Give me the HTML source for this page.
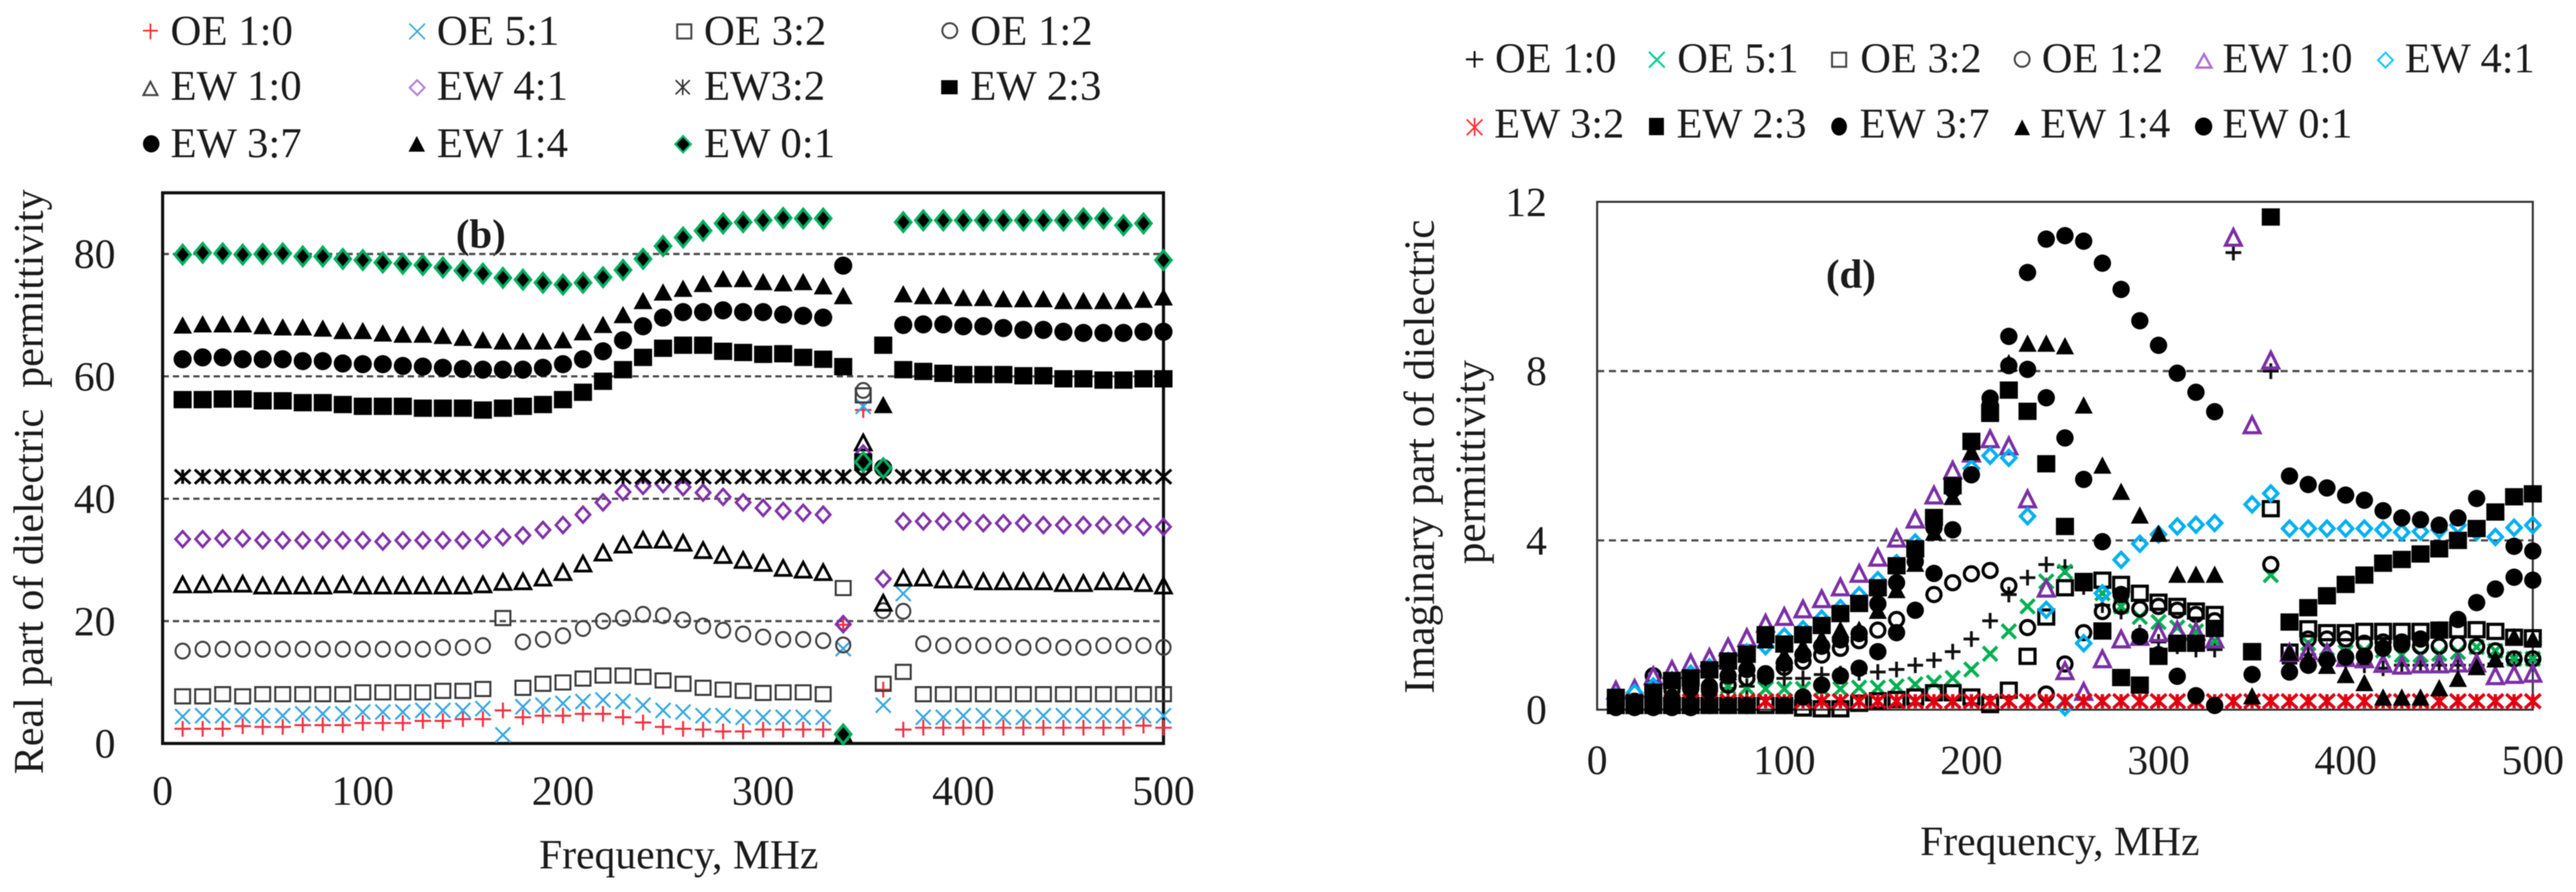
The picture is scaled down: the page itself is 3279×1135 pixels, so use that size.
<!DOCTYPE html>
<html lang="en">
<head>
<meta charset="utf-8">
<title>Real and imaginary parts of dielectric permittivity</title>
<style>
html,body{margin:0;padding:0;background:#fff;}
svg{display:block;filter:blur(0.6px);}
text{font-family:"Liberation Serif",serif;fill:#1a1a1a;}
</style>
</head>
<body>
<svg id="fig" xmlns="http://www.w3.org/2000/svg" width="3279" height="1135" viewBox="0 0 3279 1135">
  <rect width="3279" height="1135" fill="#fff"/>

  <g font-size="54.5">
    <path d="M182 39h19M191.500 30v20" stroke="#f22" stroke-width="2" fill="none"/>
    <text x="217" y="57">OE 1:0</text>
    <path d="M521 30l20 20M541 30l-20 20" stroke="#3aa7e0" stroke-width="2" fill="none"/>
    <text x="556" y="57">OE 5:1</text>
    <rect x="862" y="31" width="18" height="18" stroke="#444" stroke-width="2.500" fill="none"/>
    <text x="896" y="57">OE 3:2</text>
    <circle cx="1209" cy="39" r="9.500" stroke="#444" stroke-width="2.500" fill="none"/>
    <text x="1235" y="57">OE 1:2</text>

    <path d="M191.500 104l9 17h-18z" stroke="#444" stroke-width="2.500" fill="none"/>
    <text x="217" y="127">EW 1:0</text>
    <path d="M531 102l9.500 9.500l-9.500 9.500l-9.500-9.500z" stroke="#b080d8" stroke-width="2.500" fill="none"/>
    <text x="556" y="127">EW 4:1</text>
    <path d="M860 102l18 18M878 102l-18 18M869 101v20" stroke="#333" stroke-width="2" fill="none"/>
    <text x="896" y="127">EW3:2</text>
    <rect x="1198" y="102" width="21" height="18" fill="#000"/>
    <text x="1235" y="127">EW 2:3</text>

    <ellipse cx="192.500" cy="183" rx="10.500" ry="11" fill="#000"/>
    <text x="217" y="200">EW 3:7</text>
    <path d="M530.500 173l10.500 20h-21z" fill="#000"/>
    <text x="556" y="200">EW 1:4</text>
    <path d="M869.500 173l10 10.500l-10 10.500l-10-10.500z" fill="#000" stroke="#00c070" stroke-width="2.500"/>
    <text x="896" y="200">EW 0:1</text>
  </g>

  <g font-size="54">
    <path d="M1866 75.500h22M1877 65v21" stroke="#111" stroke-width="2.500" fill="none"/>
    <text x="1903" y="92">OE 1:0</text>
    <path d="M2099 66l20 20M2119 66l-20 20" stroke="#00d090" stroke-width="2.500" fill="none"/>
    <text x="2135" y="92">OE 5:1</text>
    <rect x="2332" y="67" width="18" height="18" stroke="#444" stroke-width="2.500" fill="none"/>
    <text x="2368" y="92">OE 3:2</text>
    <circle cx="2574" cy="75.500" r="9.500" stroke="#444" stroke-width="2.500" fill="none"/>
    <text x="2599" y="92">OE 1:2</text>
    <path d="M2805.500 69l9.500 17h-19z" stroke="#b070d0" stroke-width="3" fill="none"/>
    <text x="2829" y="92">EW 1:0</text>
    <path d="M3036.500 67l9.500 9.500l-9.500 9.500l-9.500-9.500z" stroke="#18c8f8" stroke-width="2.500" fill="none"/>
    <text x="3061" y="92">EW 4:1</text>

    <path d="M1867 152l20 20M1887 152l-20 20M1877 150v23" stroke="#f33" stroke-width="2.200" fill="none"/>
    <text x="1902" y="175">EW 3:2</text>
    <rect x="2099" y="150" width="19" height="22" fill="#000"/>
    <text x="2134" y="175">EW 2:3</text>
    <ellipse cx="2341" cy="161" rx="10" ry="11.500" fill="#000"/>
    <text x="2367" y="175">EW 3:7</text>
    <path d="M2574 152l10 20h-20z" fill="#000"/>
    <text x="2597" y="175">EW 1:4</text>
    <ellipse cx="2805" cy="161" rx="11" ry="11.500" fill="#000"/>
    <text x="2829" y="175">EW 0:1</text>
  </g>

  <g id="left-chart">
    <text transform="translate(54.500 613) rotate(-90)" text-anchor="middle" font-size="53.500" xml:space="preserve">Real part of dielectric  permittivity</text>
    <text x="864" y="1105" text-anchor="middle" font-size="53">Frequency, MHz</text>
    <text x="612" y="315" text-anchor="middle" font-size="52" font-weight="bold">(b)</text>
  </g>

  <g id="right-chart">
    <text transform="translate(1825 581) rotate(-90)" text-anchor="middle" font-size="55">Imaginary part of dielectric</text>
    <text transform="translate(1890 588) rotate(-90)" text-anchor="middle" font-size="55">permittivity</text>
    <text x="2622" y="1088" text-anchor="middle" font-size="53">Frequency, MHz</text>
    <text x="2356" y="366" text-anchor="middle" font-size="52" font-weight="bold">(d)</text>
  </g>
</svg>

<script>
const frequencies = [10,20,30,40,50,60,70,80,90,100,110,120,130,140,150,160,170,180,190,200,210,220,230,240,250,260,270,280,290,300,310,320,330,340,350,360,370,380,390,400,410,420,430,440,450,460,470,480,490,500];
const xTicks = [0,100,200,300,400,500];
const leftYTicks = [0,20,40,60,80];
const rightYTicks = [0,4,8,12];

/* Panel (b): real part of dielectric permittivity */
const realOE10 = [2.4,2.4,2.4,2.83,2.7,2.7,3,3,3,3.34,3.34,3.34,3.68,3.68,3.98,3.98,5.4,4.28,4.54,4.54,4.84,4.84,4.28,3.43,2.7,2.4,2.27,1.97,1.97,2.27,2.27,2.27,2.27,19.4,54.5,8.8,2.27,2.57,2.57,2.57,2.57,2.57,2.57,2.57,2.57,2.57,2.57,2.57,2.92,2.57];
const realOE51 = [4.4,4.54,4.54,4.54,4.54,4.54,4.84,4.84,4.84,5.14,5.14,5.14,5.4,5.4,5.4,5.7,1.4,6,6.25,6.55,6.85,7.1,6.85,6.25,5.4,5.14,4.54,4.54,4.28,4.28,4.28,4.28,4.28,15.5,55.1,6.25,24.5,4.28,4.28,4.54,4.54,4.28,4.28,4.54,4.54,4.54,4.54,4.54,4.54,4.54];
const realOE32 = [7.7,7.7,8.05,7.7,8.05,8.05,8.05,8.05,8.05,8.35,8.35,8.35,8.35,8.6,8.6,8.9,20.5,9.1,9.76,9.97,10.6,11.1,11.1,10.9,10.3,9.76,9.1,8.8,8.6,8.26,8.35,8.35,8.05,25.4,56.9,9.76,11.7,8.05,8.05,8.05,8.05,8.05,8.05,8.05,8.05,8.05,8.05,8.05,8.05,8.05];
const realOE12 = [15.1,15.4,15.4,15.4,15.4,15.4,15.4,15.4,15.4,15.4,15.4,15.4,15.4,15.7,15.7,16,null,16.6,17,17.6,18.8,20,20.5,21.1,20.9,20.2,19.2,18.5,17.9,17.4,17,17,16.8,16.1,57.7,21.7,21.6,16.3,16,16,16,16,15.7,16,15.7,15.7,16,16,16,15.7];
const realEW10 = [26,26,26.1,26.1,25.8,25.8,25.8,25.8,26,25.8,25.8,25.8,25.8,25.8,25.8,26,26.4,26.5,27.1,28,29.4,31.2,32.5,33.3,33.3,32.8,31.6,30.8,30,29.5,28.7,28.4,28,1.5,49.2,23,27.1,27.1,26.8,26.8,26.5,26.5,26.5,26.5,26.2,26.2,26.5,26.5,26.2,25.8];
const realEW41 = [33.4,33.4,33.5,33.5,33.2,33.2,33.2,33.2,33.2,33.2,33,33.2,33.2,33.2,33.2,33.4,33.7,34,34.9,35.7,37.4,39.4,41.1,42.1,42.4,41.9,41,40.3,39.4,38.5,38,37.7,37.4,19.5,47.4,26.9,36.3,36.3,36.3,36.3,36,36,36,35.7,35.7,35.7,35.7,35.7,35.4,35.4];
const realEW32 = [43.6,43.6,43.6,43.6,43.6,43.6,43.6,43.6,43.6,43.6,43.6,43.6,43.6,43.6,43.6,43.6,43.6,43.6,43.6,43.6,43.6,43.6,43.6,43.6,43.6,43.6,43.6,43.6,43.6,43.6,43.6,43.6,43.6,43.6,43.6,43.6,43.6,43.6,43.6,43.6,43.6,43.6,43.6,43.6,43.6,43.6,43.6,43.6,43.6,43.6];
const realEW23 = [56.2,56.2,56.3,56.3,56,56,55.7,55.7,55.4,55.1,55.1,55.1,54.8,54.8,54.8,54.5,54.8,55.1,55.4,56.2,57.4,59.2,61.1,63.1,64.6,65.1,65.1,64.1,63.9,63.6,63.7,63.1,62.8,61.6,46,65.1,61.1,60.8,60.5,60.3,60.3,60.3,60.1,60.1,59.6,59.6,59.4,59.4,59.6,59.6];
const realEW37 = [62.8,63.1,63.1,62.8,62.8,62.8,62.5,62.5,62.1,62,62,61.7,61.6,61.4,61.2,61.1,61.1,61.1,61.4,62,62.8,64.1,65.9,68.2,69.6,70.5,70.5,70.8,70.5,70.5,70.1,69.9,69.6,78.1,46,45,68.4,68.5,68.5,68.2,68.2,67.9,67.6,67.6,67.3,67.1,67.1,67.1,67.3,67.3];
const realEW14 = [68.4,68.6,68.6,68.6,68.3,68.1,68.1,67.9,67.5,67.5,67.1,66.9,66.9,66.7,66.4,66,65.8,65.8,65.8,66,67.3,68.5,70.1,72.4,73.8,74.4,75.2,76,76,75.5,75.3,75.5,74.8,73.2,46,55.4,73.5,73.2,73.2,72.9,72.9,72.7,72.7,72.7,72.4,72.4,72.4,72.4,72.6,73];
const realEW01 = [79.9,80.2,80.1,79.9,80,80.1,79.6,79.6,79.2,79,78.6,78.4,78.2,77.8,77.3,76.8,76.1,75.8,75.3,75,75.3,76.2,77.4,79.2,81.3,82.7,83.8,85,85.2,85.5,85.9,85.8,85.8,1.5,46,45,85.2,85.5,85.5,85.5,85.5,85.5,85.5,85.5,85.5,85.8,85.8,84.7,85,79];

/* Panel (d): imaginary part of dielectric permittivity */
const imagOE10 = [0.1,0.15,0.2,0.3,0.35,0.4,0.5,0.55,0.65,0.74,0.74,0.83,0.85,0.87,0.89,0.95,1.05,1.17,1.37,1.67,2.1,2.72,3.12,3.43,3.37,2.9,2.47,2.32,1.82,1.6,1.5,1.42,1.42,10.8,null,8,1.1,1.3,1.2,1.1,1.05,0.98,1.05,1.05,1.05,1.05,1.05,1.08,1.17,1.17];
const imagOE51 = [0.1,0.15,0.2,0.3,0.35,0.43,0.55,0.52,0.49,0.49,0.49,0.49,0.49,0.52,0.52,0.55,0.6,0.64,0.75,0.95,1.32,1.85,2.44,3.03,3.26,3,2.75,2.44,2.19,2.07,1.94,1.85,1.63,null,null,3.18,null,1.57,1.45,1.36,1.4,1.4,1.29,1.29,1.32,1.36,1.48,1.39,1.2,1.2];
const imagOE32 = [0.1,0.1,0.1,0.1,0.1,0.1,0.1,0.1,0.1,0.1,0.04,0.02,0.02,0.15,0.21,0.24,0.3,0.4,0.4,0.3,0.12,0.46,1.26,2.19,2.88,3,3.06,2.96,2.75,2.54,2.44,2.33,2.25,null,1.37,4.75,1.36,1.91,1.82,1.82,1.85,1.85,1.85,1.85,1.88,1.89,1.89,1.85,1.71,1.7];
const imagOE12 = [0.1,0.2,0.8,0.45,0.5,0.55,0.58,0.74,0.85,1,1.14,1.29,1.45,1.63,1.88,2.13,null,2.72,3,3.21,3.29,2.93,1.94,0.37,1.08,1.82,2.32,2.44,2.38,2.44,2.35,2.25,2.1,null,null,3.43,null,1.67,1.67,1.67,1.57,1.6,1.6,1.5,1.5,1.55,1.49,1.39,1.2,1.2];
const imagEW10 = [0.46,0.5,0.8,0.95,1.1,1.23,1.48,1.7,2.04,2.2,2.38,2.62,2.9,3.22,3.6,4.05,4.5,5.07,5.66,6.06,6.4,6.23,4.98,2.87,0.92,0.43,1.2,1.67,1.73,1.82,1.88,1.85,1.67,11.16,6.73,8.26,1.35,1.39,1.35,1.23,1.2,1.09,1.05,1.08,1.08,1.1,1.1,0.8,0.83,0.86];
const imagEW41 = [0.3,0.4,0.55,0.7,0.85,1,1.15,1.35,1.5,1.73,1.9,2.15,2.4,2.7,3.06,3.46,3.95,4.5,5.2,5.7,6,5.95,4.57,2.36,0.06,1.57,2.75,3.54,3.92,4.14,4.33,4.37,4.41,null,4.85,5.11,4.28,4.28,4.28,4.28,4.28,4.25,4.19,4.21,4.25,4.36,4.2,4.08,4.3,4.36];
const imagEW32 = [0.2,0.2,0.2,0.2,0.2,0.2,0.2,0.2,0.2,0.2,0.2,0.2,0.2,0.2,0.2,0.2,0.2,0.2,0.2,0.2,0.2,0.2,0.2,0.2,0.2,0.2,0.2,0.2,0.2,0.2,0.2,0.2,0.2,0.2,0.2,0.2,0.2,0.2,0.2,0.2,0.2,0.2,0.2,0.2,0.2,0.2,0.2,0.2,0.2,0.2];
const imagEW23 = [0.29,0.16,0.41,0.69,0.75,0.94,1.15,1.31,1.77,1.55,1.77,1.99,2.27,2.51,2.88,3.4,3.8,4.54,5.29,6.34,7.02,7.55,7.05,5.81,4.33,3.03,1.86,0.76,0.58,1.26,1.57,1.57,1.92,null,1.37,11.64,2.07,2.41,2.69,2.96,3.18,3.46,3.55,3.68,3.8,4,4.28,4.67,5.03,5.1];
const imagEW37 = [0.05,0.05,0.05,0.05,0.05,0.1,0.1,0.1,0.79,0.1,0.3,0.58,0.8,0.98,1.37,1.82,2.35,3.22,4.25,5.55,7.36,8.13,8.04,7.37,6.42,5.44,3.97,2.72,1.73,1.3,0.79,0.33,0.1,null,0.83,null,0.89,1.05,1.17,1.24,1.26,1.45,1.54,1.67,1.88,2.13,2.53,2.85,3.13,3.06];
const imagEW14 = [0.1,0.1,0.25,0.45,0.3,0.7,0.9,1,1.65,1.3,1.5,1.7,1.9,1.9,2.35,2.84,3.46,4.2,5.04,6.1,7,8.2,8.66,8.66,8.6,7.2,5.78,5.16,4.6,4.17,3.2,3.2,3.2,null,0.33,null,1.36,1.23,1.05,0.83,0.64,0.3,0.3,0.3,0.52,0.74,1.02,1.2,1.73,1.67];
const imagEW01 = [0.1,0.1,0.15,0.25,0.5,0.45,0.8,0.95,0.79,1.1,1.3,1.5,1.65,1.8,2.5,3,3.5,4.3,5.2,6.3,7.2,8.82,10.33,11.12,11.2,11.07,10.55,9.93,9.19,8.61,7.95,7.5,7.04,null,null,null,5.52,5.32,5.24,5.07,4.95,4.7,4.53,4.49,4.36,4.53,4.99,4.67,3.86,3.75];

const NS = 'http://www.w3.org/2000/svg';

function leftX(f){ return 207 + f * 2.548; }
function leftY(v){ return 946 - v * 7.785; }
function rightX(f){ return 2033 + f * 2.382; }
function rightY(v){ return 903 - v * 53.85; }

function shapePath(shape, w, h){
  if (shape === 'plus') return 'M' + (-w) + ' 0H' + w + 'M0 ' + (-h) + 'V' + h;
  if (shape === 'cross') return 'M' + (-w) + ' ' + (-h) + 'L' + w + ' ' + h + 'M' + w + ' ' + (-h) + 'L' + (-w) + ' ' + h;
  if (shape === 'star') return 'M' + (-w) + ' ' + (-h) + 'L' + w + ' ' + h + 'M' + w + ' ' + (-h) + 'L' + (-w) + ' ' + h + 'M0 ' + (-h) + 'V' + h;
  if (shape === 'triangle') return 'M0 ' + (-h) + 'L' + w + ' ' + h + 'H' + (-w) + 'Z';
  if (shape === 'diamond') return 'M0 ' + (-h) + 'L' + w + ' 0L0 ' + h + 'L' + (-w) + ' 0Z';
  if (shape === 'square') return 'M' + (-w) + ' ' + (-h) + 'H' + w + 'V' + h + 'H' + (-w) + 'Z';
  const k = 0.5523;
  return 'M' + (-w) + ' 0C' + (-w) + ' ' + (-h * k) + ' ' + (-w * k) + ' ' + (-h) + ' 0 ' + (-h) +
    'C' + (w * k) + ' ' + (-h) + ' ' + w + ' ' + (-h * k) + ' ' + w + ' 0' +
    'C' + w + ' ' + (h * k) + ' ' + (w * k) + ' ' + h + ' 0 ' + h +
    'C' + (-w * k) + ' ' + h + ' ' + (-w) + ' ' + (h * k) + ' ' + (-w) + ' 0Z';
}

function drawFrame(root, prefix, xFn, yFn, gridVals, yTicks, topValue, stroke, frameWidth, dash, tickFont, yLabelX, xLabelY){
  const left = xFn(0), right = xFn(500), top = yFn(topValue), bottom = yFn(0);
  gridVals.forEach(function(v){
    const line = document.createElementNS(NS, 'line');
    
    
    line.setAttribute('x1', left);
    line.setAttribute('x2', right);
    line.setAttribute('y1', yFn(v));
    line.setAttribute('y2', yFn(v));
    line.setAttribute('stroke', '#4a4a4a');
    line.setAttribute('stroke-width', 2.8);
    line.setAttribute('stroke-dasharray', dash);
    root.appendChild(line);
  });
  const frame = document.createElementNS(NS, 'rect');
  
  
  frame.setAttribute('x', left);
  frame.setAttribute('y', top);
  frame.setAttribute('width', right - left);
  frame.setAttribute('height', bottom - top);
  frame.setAttribute('fill', 'none');
  frame.setAttribute('stroke', stroke);
  frame.setAttribute('stroke-width', frameWidth);
  root.appendChild(frame);
  yTicks.forEach(function(v){
    const t = document.createElementNS(NS, 'text');
    
    
    t.setAttribute('x', yLabelX);
    t.setAttribute('y', yFn(v) + 18);
    t.setAttribute('text-anchor', 'end');
    t.setAttribute('font-size', tickFont);
    t.textContent = String(v);
    root.appendChild(t);
  });
  xTicks.forEach(function(v){
    const t = document.createElementNS(NS, 'text');
    
    
    t.setAttribute('x', xFn(v));
    t.setAttribute('y', xLabelY);
    t.setAttribute('text-anchor', 'middle');
    t.setAttribute('font-size', tickFont);
    t.textContent = String(v);
    root.appendChild(t);
  });
}

function drawSeries(root, seriesName, values, xFn, yFn, shape, w, h, fill, stroke, sw){
  const g = document.createElementNS(NS, 'g');
  
  
  values.forEach(function(v, i){
    if (v === null) return;
    const p = document.createElementNS(NS, 'path');
    
    
    p.setAttribute('d', shapePath(shape, w, h));
    p.setAttribute('transform', 'translate(' + xFn(frequencies[i]) + ' ' + yFn(v) + ')');
    p.setAttribute('fill', fill);
    p.setAttribute('stroke', stroke);
    p.setAttribute('stroke-width', sw);
    g.appendChild(p);
  });
  root.appendChild(g);
}

const leftRoot = document.getElementById('left-chart');
const rightRoot = document.getElementById('right-chart');

drawFrame(leftRoot, 'left', leftX, leftY, [20,40,60,80], leftYTicks, 90, '#111', 4, '8 5', 53, 147, 1024);
drawFrame(rightRoot, 'right', rightX, rightY, [4,8], rightYTicks, 12, '#333', 2.6, '9 6', 53, 1969, 985);

drawSeries(leftRoot, 'real-oe-1-0', realOE10, leftX, leftY, 'plus', 10.5, 10, 'none', '#f43040', 2.6);
drawSeries(leftRoot, 'real-oe-5-1', realOE51, leftX, leftY, 'cross', 9.5, 9.5, 'none', '#38a8e0', 2.6);
drawSeries(leftRoot, 'real-oe-3-2', realOE32, leftX, leftY, 'square', 9.5, 9, 'none', '#3a3a3a', 2.6);
drawSeries(leftRoot, 'real-oe-1-2', realOE12, leftX, leftY, 'circle', 9, 9.5, 'none', '#404040', 2.6);
drawSeries(leftRoot, 'real-ew-1-0', realEW10, leftX, leftY, 'triangle', 10, 9.5, 'none', '#000', 3.5);
drawSeries(leftRoot, 'real-ew-4-1', realEW41, leftX, leftY, 'diamond', 9, 10, 'none', '#8030a8', 3.4);
drawSeries(leftRoot, 'real-ew-3-2', realEW32, leftX, leftY, 'star', 10, 9, 'none', '#000', 3.6);
drawSeries(leftRoot, 'real-ew-2-3', realEW23, leftX, leftY, 'square', 11.5, 11, '#000', 'none', 0);
drawSeries(leftRoot, 'real-ew-3-7', realEW37, leftX, leftY, 'circle', 11.5, 11.5, '#000', 'none', 0);
drawSeries(leftRoot, 'real-ew-1-4', realEW14, leftX, leftY, 'triangle', 12, 11, '#000', 'none', 0);
drawSeries(leftRoot, 'real-ew-0-1', realEW01, leftX, leftY, 'diamond', 10, 12, '#000', '#00b060', 3.6);

drawSeries(rightRoot, 'imag-oe-1-0', imagOE10, rightX, rightY, 'plus', 10, 10, 'none', '#111', 3.6);
drawSeries(rightRoot, 'imag-oe-5-1', imagOE51, rightX, rightY, 'cross', 9, 9, 'none', '#00b050', 4.2);
drawSeries(rightRoot, 'imag-oe-3-2', imagOE32, rightX, rightY, 'square', 9.5, 9, 'none', '#000', 4);
drawSeries(rightRoot, 'imag-oe-1-2', imagOE12, rightX, rightY, 'circle', 9, 9, 'none', '#000', 4);
drawSeries(rightRoot, 'imag-ew-1-0', imagEW10, rightX, rightY, 'triangle', 10, 10, 'none', '#7b2fa5', 4);
drawSeries(rightRoot, 'imag-ew-4-1', imagEW41, rightX, rightY, 'diamond', 9, 9.5, 'none', '#00b0f0', 4.2);
drawSeries(rightRoot, 'imag-ew-3-2', imagEW32, rightX, rightY, 'star', 10, 9, 'none', '#e00010', 4.2);
drawSeries(rightRoot, 'imag-ew-2-3', imagEW23, rightX, rightY, 'square', 11.5, 11, '#000', 'none', 0);
drawSeries(rightRoot, 'imag-ew-3-7', imagEW37, rightX, rightY, 'circle', 11, 11, '#000', 'none', 0);
drawSeries(rightRoot, 'imag-ew-1-4', imagEW14, rightX, rightY, 'triangle', 11.5, 11, '#000', 'none', 0);
drawSeries(rightRoot, 'imag-ew-0-1', imagEW01, rightX, rightY, 'circle', 11, 11, '#000', 'none', 0);
</script>
</body>
</html>
